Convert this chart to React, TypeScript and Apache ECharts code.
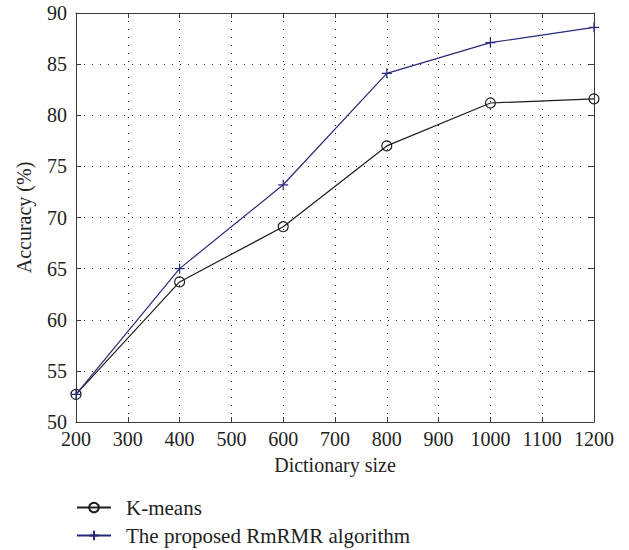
import React, { useEffect, useRef } from "react";
import * as echarts from "echarts";

const dictSizes = [200, 400, 600, 800, 1000, 1200];
const kmeans = [52.7, 63.7, 69.1, 77.0, 81.2, 81.6];
const proposed = [52.7, 65.0, 73.2, 84.1, 87.1, 88.6];
const seriesNames = ["K-means", "The proposed RmRMR algorithm"];

const FONT = "'Liberation Serif', 'DejaVu Serif', serif";
const AXIS = "#3a3a3a";
const BLUE = "#28287a";
const BLACK = "#1e1e1e";
const TXT = "#222";

export default function App() {
  const ref = useRef<HTMLDivElement>(null);
  useEffect(() => {
    if (!ref.current) return;
    document.body.style.margin = "0";
    const chart = echarts.init(ref.current, undefined, { renderer: "svg" });
    const split = { show: true, lineStyle: { color: "#222", width: 1, type: [1, 7] as any } };
    const tickIn = { show: true, inside: true, length: 5, lineStyle: { color: AXIS } };
    chart.setOption({
      animation: false,
      grid: { left: 76, right: 35, top: 13, bottom: 128, containLabel: false },
      legend: {
        orient: "vertical",
        left: 76,
        top: 497,
        height: 60,
        padding: 0,
        itemWidth: 34,
        itemHeight: 12,
        itemGap: 7,
        align: "left",
        textStyle: { fontFamily: FONT, fontSize: 21, color: TXT, lineHeight: 20, padding: [0, 0, 0, 10] },
        data: seriesNames,
      },
      xAxis: [
        {
          type: "value",
          min: 200,
          max: 1200,
          interval: 100,
          name: "Dictionary size",
          nameLocation: "middle",
          nameGap: 33,
          nameTextStyle: { fontFamily: FONT, fontSize: 20, color: TXT },
          axisLine: { show: true, lineStyle: { color: AXIS } },
          axisTick: tickIn,
          axisLabel: { fontFamily: FONT, fontSize: 20, color: TXT, margin: 7, formatter: (v: number) => String(v) },
          splitLine: split,
        },
        {
          type: "value",
          position: "top",
          min: 200,
          max: 1200,
          interval: 100,
          axisLine: { show: true, lineStyle: { color: AXIS } },
          axisTick: tickIn,
          axisLabel: { show: false },
          splitLine: { show: false },
        },
      ],
      yAxis: [
        {
          type: "value",
          min: 50,
          max: 90,
          interval: 5,
          name: "Accuracy (%)",
          nameLocation: "middle",
          nameGap: 42,
          nameTextStyle: { fontFamily: FONT, fontSize: 20, color: TXT },
          axisLine: { show: true, lineStyle: { color: AXIS } },
          axisTick: tickIn,
          axisLabel: { fontFamily: FONT, fontSize: 20, color: TXT, margin: 9 },
          splitLine: split,
        },
        {
          type: "value",
          position: "right",
          min: 50,
          max: 90,
          interval: 5,
          axisLine: { show: true, lineStyle: { color: AXIS } },
          axisTick: tickIn,
          axisLabel: { show: false },
          splitLine: { show: false },
        },
      ],
      series: [
        {
          name: seriesNames[0],
          type: "line",
          data: dictSizes.map((x, i) => [x, kmeans[i]]),
          symbol: "circle",
          symbolSize: 10,
          lineStyle: { color: BLACK, width: 1.2 },
          itemStyle: { color: "rgba(255,255,255,0)", borderColor: BLACK, borderWidth: 1.2 },
          z: 2,
        },
        {
          name: seriesNames[1],
          type: "line",
          data: dictSizes.map((x, i) => [x, proposed[i]]),
          symbol: "path://M0,5 L10,5 M5,0 L5,10",
          symbolSize: 10,
          lineStyle: { color: BLUE, width: 1.2 },
          itemStyle: { color: "rgba(0,0,0,0)", borderColor: BLUE, borderWidth: 1.2 },
          z: 3,
        },
      ],
    });
    return () => chart.dispose();
  }, []);
  return <div ref={ref} style={{ width: 629, height: 550 }} />;
}
